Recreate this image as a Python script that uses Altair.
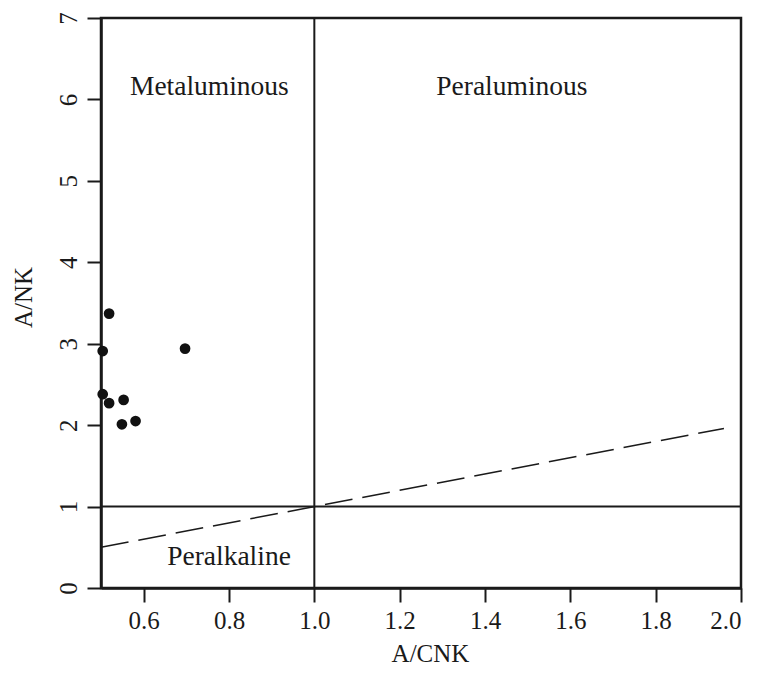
import altair as alt
import pandas as pd

# sample points (A/CNK, A/NK)
acnk = [0.519, 0.504, 0.697, 0.504, 0.519, 0.553, 0.549, 0.581]
ank = [3.37, 2.91, 2.94, 2.38, 2.27, 2.31, 2.01, 2.05]

# dashed boundary line y = x
dash_x = [0.5, 1.96]
dash_y = [0.5, 1.96]

# field labels
label_text = ["Metaluminous", "Peraluminous", "Peralkaline"]
label_x = [0.754, 1.463, 0.80]
label_y = [6.15, 6.15, 0.38]

x_ticks = [0.6, 0.8, 1.0, 1.2, 1.4, 1.6, 1.8, 2.0]
y_ticks = [0, 1, 2, 3, 4, 5, 6, 7]

FONT = "Liberation Serif"
INK = "#1a1a1a"

xscale = alt.Scale(domain=[0.5, 2.0], nice=False, zero=False)
yscale = alt.Scale(domain=[0, 7], nice=False, zero=False)

xaxis = alt.Axis(
    values=x_ticks, format=".1f", title="A/CNK", grid=False,
    domainColor=INK, domainWidth=2.5, tickColor=INK, tickWidth=2, tickSize=14,
    labelFont=FONT, labelFontSize=25, labelColor=INK, labelPadding=6,
    titleFont=FONT, titleFontSize=25, titleFontWeight="normal", titleColor=INK,
    titleX=329, titleY=73, titleBaseline="alphabetic", titleAlign="center",
)
yaxis = alt.Axis(
    values=y_ticks, format="d", title="A/NK", grid=False,
    domainColor=INK, domainWidth=2.5, tickColor=INK, tickWidth=2, tickSize=14,
    labelFont=FONT, labelFontSize=25, labelColor=INK, labelPadding=6,
    labelAngle=270, labelAlign="center", labelBaseline="bottom",
    titleFont=FONT, titleFontSize=25, titleFontWeight="normal", titleColor=INK,
    titleX=-78, titleY=279, titleAngle=270, titleBaseline="middle", titleAlign="center",
)

pts = pd.DataFrame({"x": acnk, "y": ank})
dash = pd.DataFrame({"x": dash_x, "y": dash_y})
labels = pd.DataFrame({"x": label_x, "y": label_y, "t": label_text})
vline = pd.DataFrame({"x": [1.0], "y": [0.0], "y2": [7.0]})
hline = pd.DataFrame({"x": [0.5], "x2": [2.0], "y": [1.0]})

base_x = alt.X("x:Q", scale=xscale, axis=xaxis)
base_y = alt.Y("y:Q", scale=yscale, axis=yaxis)

v = alt.Chart(vline).mark_rule(color=INK, strokeWidth=2).encode(
    x=base_x, y=base_y, y2="y2:Q"
)
h = alt.Chart(hline).mark_rule(color=INK, strokeWidth=2).encode(
    x=base_x, x2="x2:Q", y=base_y
)
d = alt.Chart(dash).mark_line(color=INK, strokeWidth=1.5, strokeDash=[28, 10]).encode(
    x=base_x, y=base_y
)
p = alt.Chart(pts).mark_circle(color="#111111", opacity=1, size=115).encode(
    x=base_x, y=base_y
)
t = alt.Chart(labels).mark_text(font=FONT, fontSize=27.5, color=INK, baseline="middle").encode(
    x=base_x, y=base_y, text="t:N"
)

chart = alt.layer(v, h, d, p, t).properties(
    width=640, height=570,
    background="white",
    autosize=alt.AutoSizeParams(type="none"),
    padding={"left": 93, "top": 10, "right": 4, "bottom": 79},
).configure_view(stroke=INK, strokeWidth=2.5)

chart.save("out.html", embed_options={"renderer": "svg", "actions": False})
